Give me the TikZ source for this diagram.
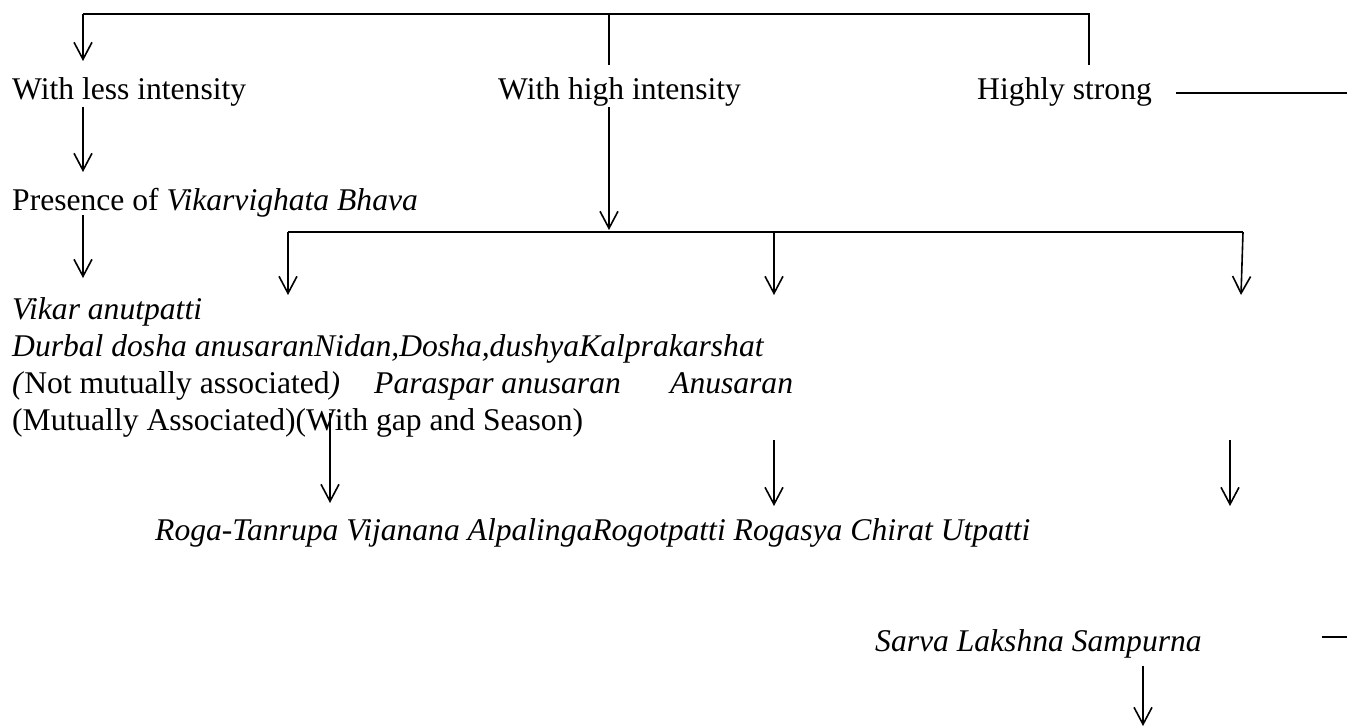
\documentclass[tikz,border=0pt]{standalone}
\usepackage{fontspec}
\setmainfont{Liberation Serif}
\usetikzlibrary{arrows.meta}
\begin{document}
\begin{tikzpicture}[x=1pt,y=-1pt,
  txt/.style={anchor=base west,inner sep=0pt,font=\fontsize{31.6pt}{38pt}\selectfont},
  ln/.style={line width=1.6pt,line cap=butt},
  arr/.style={ln,-{Straight Barb[length=17pt,width=18pt,line width=1.6pt]}}]
\useasboundingbox (0,0) rectangle (1347,728);
% text nodes
\node[txt] (less) at (12,99) {With less intensity};
\node[txt] (high) at (498,99) {With high intensity};
\node[txt] (strong) at (977,99) {Highly strong};
\node[txt] (pres) at (12,210) {Presence of \textit{Vikarvighata Bhava}};
\node[txt] (vik) at (12,319) {\textit{Vikar anutpatti}};
\node[txt] (durbal) at (12,356) {\textit{Durbal dosha anusaranNidan,Dosha,dushyaKalprakarshat}};
\node[txt] (notm) at (12,393) {\textit{(}Not mutually associated\textit{)}};
\node[txt] (para) at (374,393) {\textit{Paraspar anusaran}};
\node[txt] (anus) at (670,393) {\textit{Anusaran}};
\node[txt] (mutu) at (12,430) {(Mutually Associated)(With gap and Season)};
\node[txt] (roga) at (155,540) {\textit{Roga-Tanrupa Vijanana AlpalingaRogotpatti Rogasya Chirat Utpatti}};
\node[txt] (sarva) at (875,651) {\textit{Sarva Lakshna Sampurna}};
% connector coordinates
\coordinate (tl) at (83,14);
\coordinate (tm) at (609,14);
\coordinate (tr) at (1089,14);
\coordinate (trb) at (1089,65);
\coordinate (tmb) at (609,65);
\coordinate (tlb) at (83,61);
\coordinate (l1) at (83,107);
\coordinate (l1b) at (83,172);
\coordinate (m1) at (609,107);
\coordinate (m1b) at (609,230);
\coordinate (l2) at (83,215);
\coordinate (l2b) at (83,278);
\coordinate (bl) at (288,232);
\coordinate (bm) at (774,232);
\coordinate (br) at (1243,232);
\coordinate (blb) at (288,295);
\coordinate (bmb) at (774,295);
\coordinate (brb) at (1241,295);
\coordinate (c1) at (330,413);
\coordinate (c1b) at (330,503);
\coordinate (c2) at (774,440);
\coordinate (c2b) at (774,506);
\coordinate (c3) at (1230,440);
\coordinate (c3b) at (1230,506);
\coordinate (hs1) at (1176,93);
\coordinate (hs2) at (1347,93);
\coordinate (sh1) at (1322,637);
\coordinate (sh2) at (1347,637);
\coordinate (sv) at (1143,666);
\coordinate (svb) at (1143,726);
% connectors
\draw[ln] (trb) -- (tr) -- (tl);
\draw[arr] (tl) -- (tlb);
\draw[ln] (tm) -- (tmb);
\draw[arr] (l1) -- (l1b);
\draw[arr] (m1) -- (m1b);
\draw[arr] (l2) -- (l2b);
\draw[ln] (bl) -- (br);
\draw[arr] (bl) -- (blb);
\draw[arr] (bm) -- (bmb);
\draw[arr] (br) -- (brb);
\draw[arr] (c1) -- (c1b);
\draw[arr] (c2) -- (c2b);
\draw[arr] (c3) -- (c3b);
\draw[ln] (hs1) -- (hs2);
\draw[ln] (sh1) -- (sh2);
\draw[arr] (sv) -- (svb);
\end{tikzpicture}
\end{document}
